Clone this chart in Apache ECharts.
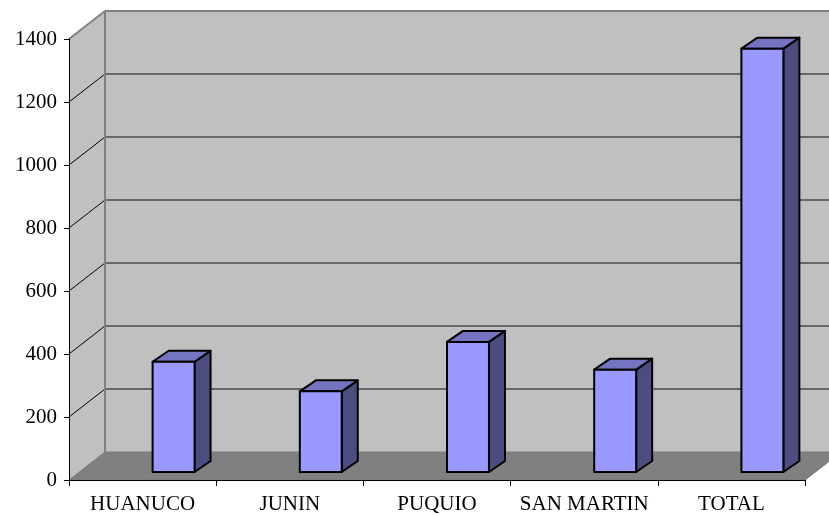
<!DOCTYPE html>
<html>
<head>
<meta charset="utf-8">
<script src="https://cdn.jsdelivr.net/npm/echarts@6/dist/echarts.min.js"></script>
<style>
  html, body { margin: 0; padding: 0; background: #ffffff; }
  #chart { width: 829px; height: 515px; }
</style>
</head>
<body>
<div id="chart"></div>
<script>
// Cases by region
const categories = ['HUANUCO', 'JUNIN', 'PUQUIO', 'SAN MARTIN', 'TOTAL'];
const casos = [350, 256, 413, 325, 1344];
const yTicks = [0, 200, 400, 600, 800, 1000, 1200, 1400];

// Oblique projection of the box: offset of the back wall from the front plane
const DEPTH_X = 36;
const DEPTH_Y = -28;
// Column geometry (relative to one category band)
const BAR_OFFSET = 0.068;   // front face left edge, from band centre
const BAR_WIDTH = 0.285;    // front face width
const BAR_LIFT = 8;         // front face sits this far behind the front floor edge
const BAR_SIDE_X = 16;
const BAR_SIDE_Y = -11;

const chart = echarts.init(document.getElementById('chart'), null, { renderer: 'canvas' });

function renderWalls(params, api) {
  const cs = params.coordSys;
  const x0 = cs.x, x1 = cs.x + cs.width;
  const yTop = cs.y, yBot = cs.y + cs.height;
  const bx0 = x0 + DEPTH_X, bx1 = x1 + DEPTH_X;
  const children = [];
  // back wall
  children.push({ type: 'polygon', shape: { points: [[bx0, yTop + DEPTH_Y], [bx1, yTop + DEPTH_Y], [bx1, yBot + DEPTH_Y], [bx0, yBot + DEPTH_Y]] },
    style: { fill: '#c0c0c0' } });
  // left side wall
  children.push({ type: 'polygon', shape: { points: [[x0, yTop], [bx0, yTop + DEPTH_Y], [bx0, yBot + DEPTH_Y], [x0, yBot]] },
    style: { fill: '#c0c0c0' } });
  // floor
  children.push({ type: 'polygon', shape: { points: [[x0, yBot], [bx0, yBot + DEPTH_Y], [bx1, yBot + DEPTH_Y], [x1, yBot]] },
    style: { fill: '#808080', stroke: '#7a7a7a', lineWidth: 1 } });
  // gridlines on back wall and side wall
  const last = yTicks[yTicks.length - 1];
  yTicks.forEach(function (t) {
    const y = api.coord([0, t])[1];
    if (t > 0 && t < last) {
      children.push({ type: 'line', shape: { x1: bx0, y1: y + DEPTH_Y, x2: bx1, y2: y + DEPTH_Y },
        style: { stroke: '#4a4a4a', lineWidth: 1.5 } });
    }
    if (t > 0) {
      children.push({ type: 'line', shape: { x1: x0, y1: y, x2: bx0, y2: y + DEPTH_Y },
        style: { stroke: t === last ? '#808080' : '#000000', lineWidth: t === last ? 2 : 1 } });
    }
  });
  // wall borders
  children.push({ type: 'line', shape: { x1: bx0, y1: yTop + DEPTH_Y, x2: bx1, y2: yTop + DEPTH_Y },
    style: { stroke: '#808080', lineWidth: 2 } });
  children.push({ type: 'line', shape: { x1: bx0, y1: yTop + DEPTH_Y, x2: bx0, y2: yBot + DEPTH_Y },
    style: { stroke: '#808080', lineWidth: 2 } });
  children.push({ type: 'line', shape: { x1: x1, y1: yBot, x2: bx1, y2: yBot + DEPTH_Y },
    style: { stroke: '#808080', lineWidth: 1 } });
  return { type: 'group', children: children };
}

function renderColumn(params, api) {
  const idx = api.value(0);
  const base = api.coord([idx, 0]);
  const top = api.coord([idx, api.value(1)]);
  const band = api.size([1, 0])[0];
  const left = base[0] + band * BAR_OFFSET;
  const right = left + band * BAR_WIDTH;
  const yb = base[1] - BAR_LIFT;
  const yt = top[1] - BAR_LIFT;
  const edge = { stroke: '#000000', lineWidth: 2, lineJoin: 'round' };
  return {
    type: 'group',
    children: [
      { type: 'polygon', shape: { points: [[right, yt], [right + BAR_SIDE_X, yt + BAR_SIDE_Y], [right + BAR_SIDE_X, yb + BAR_SIDE_Y], [right, yb]] },
        style: Object.assign({ fill: '#4c4c80' }, edge) },
      { type: 'polygon', shape: { points: [[left, yt], [left + BAR_SIDE_X, yt + BAR_SIDE_Y], [right + BAR_SIDE_X, yt + BAR_SIDE_Y], [right, yt]] },
        style: Object.assign({ fill: '#7474c0' }, edge) },
      { type: 'rect', shape: { x: left, y: yt, width: right - left, height: yb - yt },
        style: Object.assign({ fill: '#9999ff' }, edge) }
    ]
  };
}

const option = {
  animation: false,
  backgroundColor: '#ffffff',
  grid: { left: 69, right: 24, top: 39, bottom: 35, containLabel: false },
  xAxis: {
    type: 'category',
    data: categories,
    boundaryGap: true,
    z: 5,
    axisLine: { lineStyle: { color: '#000000', width: 1 } },
    axisTick: { show: true, length: 6, lineStyle: { color: '#000000' } },
    axisLabel: { color: '#000000', fontFamily: 'Liberation Serif', fontSize: 21, margin: 14, interval: 0 },
    splitLine: { show: false }
  },
  yAxis: {
    type: 'value',
    min: 0,
    max: 1400,
    interval: 200,
    z: 5,
    axisLine: { show: true, lineStyle: { color: '#000000', width: 1 } },
    axisTick: { show: true, length: 5, lineStyle: { color: '#000000' } },
    axisLabel: { color: '#000000', fontFamily: 'Liberation Serif', fontSize: 21, margin: 12,
      formatter: function (v) { return String(v); } },
    splitLine: { show: false }
  },
  series: [
    {
      type: 'custom',
      name: 'walls',
      z: 1,
      silent: true,
      renderItem: renderWalls,
      data: [[0, 0]]
    },
    {
      type: 'custom',
      name: 'casos',
      z: 6,
      renderItem: renderColumn,
      encode: { x: 0, y: 1 },
      data: categories.map(function (c, i) { return [i, casos[i]]; })
    }
  ]
};

chart.setOption(option);
</script>
</body>
</html>
